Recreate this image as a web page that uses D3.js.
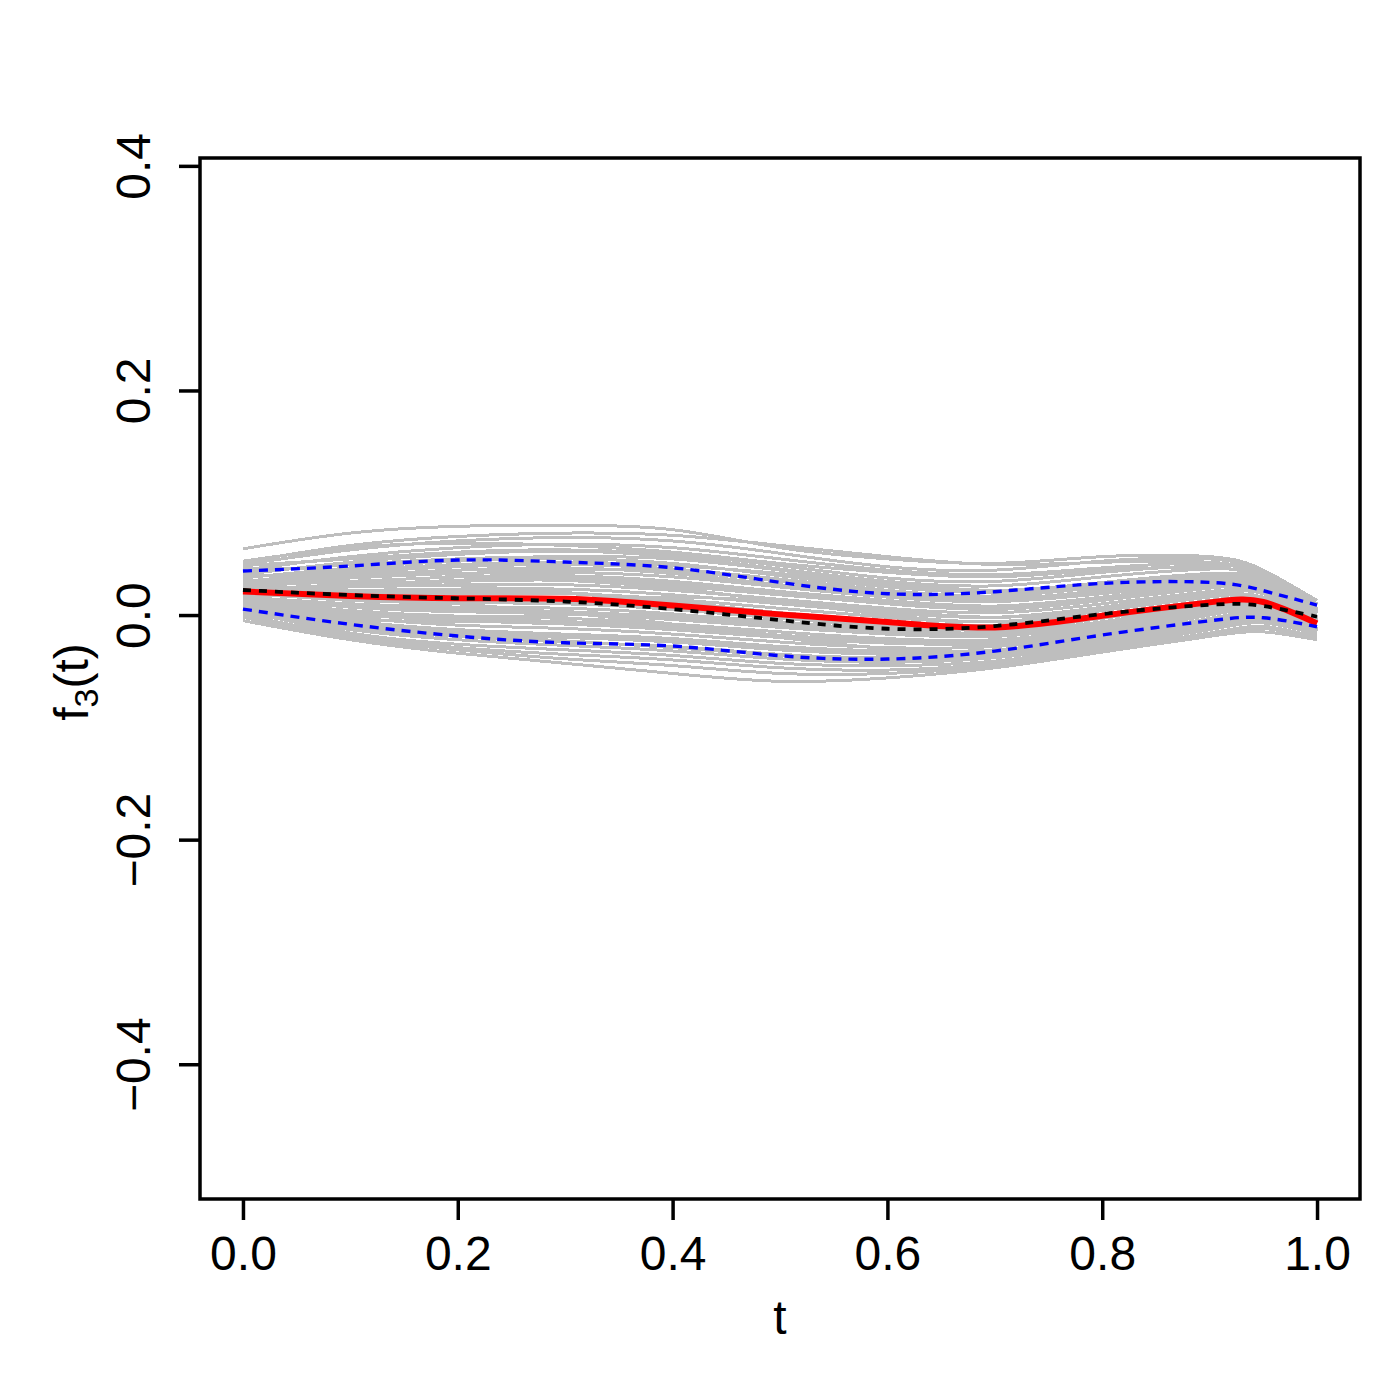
<html>
  <head>
    <meta charset="utf-8">
    <title>f3(t)</title>
    <style>
      body { margin: 0; background: #fff; }
      text { font-family: 'Liberation Sans', Arial, sans-serif; }
    </style>
  </head>
  <body>
    <script src="https://d3js.org/d3.v7.min.js"></script>
    <script>
      var width = 1400;
      var height = 1400;

      var tGrid = [0, 0.1, 0.2, 0.3, 0.4, 0.5, 0.6, 0.7, 0.8, 0.9, 0.95, 1.0];

      // red solid: estimate
      var estimate = [0.021, 0.017, 0.015, 0.0145, 0.0085, 0.0006, -0.0062, -0.011, -0.0006, 0.0113, 0.0116, -0.0074];
      // black dashed: true function
      var truth = [0.0223, 0.0178, 0.0149, 0.012, 0.0053, -0.0045, -0.0122, -0.0098, 0.0009, 0.0092, 0.008, -0.0015];
      // blue dashed: pointwise band
      var upperBand = [0.0392, 0.0437, 0.049, 0.0472, 0.0421, 0.0291, 0.019, 0.0208, 0.0282, 0.0291, 0.0217, 0.0089];
      var lowerBand = [0.0053, -0.0083, -0.0187, -0.0247, -0.0276, -0.0362, -0.0392, -0.0321, -0.0178, -0.0051, -0.0024, -0.0104];

      // grey: bootstrap curves
      var bootCurves = [
        [0.059, 0.073, 0.079, 0.080, 0.076, 0.060, 0.050, 0.046, 0.052, 0.052, 0.040, 0.013],
        [0.047, 0.062, 0.070, 0.073, 0.071, 0.062, 0.052, 0.045, 0.047, 0.047, 0.036, 0.008],
        [0.045, 0.058, 0.066, 0.069, 0.066, 0.055, 0.043, 0.040, 0.048, 0.050, 0.038, 0.010],
        [0.040, 0.052, 0.060, 0.063, 0.060, 0.050, 0.040, 0.036, 0.042, 0.046, 0.036, 0.006],
        [0.044, 0.050, 0.056, 0.058, 0.054, 0.044, 0.033, 0.030, 0.038, 0.044, 0.037, 0.009],
        [0.036, 0.047, 0.054, 0.057, 0.052, 0.041, 0.030, 0.026, 0.034, 0.041, 0.034, 0.004],
        [0.038, 0.045, 0.050, 0.052, 0.050, 0.040, 0.029, 0.022, 0.029, 0.037, 0.031, 0.002],
        [0.033, 0.042, 0.048, 0.050, 0.046, 0.035, 0.025, 0.020, 0.027, 0.035, 0.030, 0.003],
        [0.030, 0.038, 0.043, 0.045, 0.041, 0.032, 0.022, 0.017, 0.025, 0.033, 0.028, 0.000],
        [0.035, 0.036, 0.040, 0.042, 0.037, 0.027, 0.018, 0.014, 0.022, 0.031, 0.027, 0.001],
        [0.028, 0.033, 0.037, 0.038, 0.034, 0.025, 0.016, 0.012, 0.019, 0.028, 0.025, -0.002],
        [0.026, 0.030, 0.034, 0.035, 0.030, 0.021, 0.013, 0.008, 0.016, 0.026, 0.024, 0.000],
        [0.031, 0.028, 0.030, 0.031, 0.026, 0.018, 0.010, 0.005, 0.013, 0.024, 0.022, -0.003],
        [0.024, 0.025, 0.027, 0.027, 0.022, 0.014, 0.006, 0.002, 0.010, 0.021, 0.020, -0.004],
        [0.022, 0.022, 0.023, 0.023, 0.018, 0.010, 0.002, -0.002, 0.007, 0.019, 0.019, -0.005],
        [0.027, 0.020, 0.019, 0.019, 0.014, 0.006, -0.002, -0.006, 0.004, 0.016, 0.016, -0.006],
        [0.019, 0.017, 0.016, 0.015, 0.010, 0.002, -0.005, -0.009, 0.001, 0.013, 0.014, -0.008],
        [0.020, 0.013, 0.011, 0.010, 0.005, -0.003, -0.010, -0.013, -0.003, 0.010, 0.012, -0.009],
        [0.016, 0.010, 0.007, 0.006, 0.001, -0.007, -0.013, -0.016, -0.006, 0.008, 0.010, -0.010],
        [0.017, 0.007, 0.003, 0.001, -0.004, -0.011, -0.017, -0.019, -0.009, 0.005, 0.008, -0.012],
        [0.013, 0.004, -0.001, -0.003, -0.008, -0.015, -0.021, -0.022, -0.012, 0.002, 0.006, -0.011],
        [0.012, 0.001, -0.005, -0.008, -0.013, -0.020, -0.025, -0.025, -0.015, 0.000, 0.004, -0.013],
        [0.008, -0.002, -0.009, -0.012, -0.017, -0.024, -0.029, -0.028, -0.018, -0.003, 0.002, -0.014],
        [0.010, -0.005, -0.013, -0.017, -0.021, -0.028, -0.032, -0.031, -0.020, -0.005, 0.001, -0.012],
        [0.005, -0.008, -0.016, -0.020, -0.024, -0.031, -0.035, -0.033, -0.022, -0.007, -0.001, -0.015],
        [0.007, -0.011, -0.019, -0.024, -0.028, -0.035, -0.038, -0.035, -0.024, -0.009, -0.003, -0.016],
        [0.002, -0.013, -0.022, -0.027, -0.032, -0.039, -0.042, -0.038, -0.026, -0.011, -0.005, -0.018],
        [0.004, -0.016, -0.026, -0.031, -0.036, -0.043, -0.045, -0.041, -0.028, -0.013, -0.007, -0.017],
        [0.000, -0.018, -0.029, -0.035, -0.040, -0.047, -0.049, -0.043, -0.030, -0.016, -0.010, -0.020],
        [-0.002, -0.020, -0.031, -0.039, -0.045, -0.052, -0.052, -0.045, -0.031, -0.018, -0.012, -0.021],
        [-0.005, -0.022, -0.034, -0.043, -0.052, -0.059, -0.056, -0.047, -0.033, -0.019, -0.015, -0.022],
        [0.030, 0.030, 0.026, 0.020, 0.010, -0.002, -0.012, -0.018, -0.010, 0.006, 0.010, -0.008],
        [0.010, 0.008, 0.010, 0.014, 0.016, 0.012, 0.004, -0.002, 0.005, 0.017, 0.016, -0.004],
        [0.042, 0.040, 0.036, 0.031, 0.024, 0.012, 0.000, -0.006, 0.004, 0.020, 0.020, -0.002],
        [0.000, -0.004, -0.006, -0.006, -0.010, -0.020, -0.030, -0.032, -0.020, -0.004, 0.002, -0.016],
        [0.025, 0.018, 0.010, 0.002, -0.008, -0.018, -0.024, -0.026, -0.016, 0.000, 0.005, -0.012],
        [0.048, 0.060, 0.064, 0.062, 0.056, 0.046, 0.038, 0.034, 0.040, 0.042, 0.033, 0.005],
        [0.034, 0.040, 0.045, 0.047, 0.044, 0.037, 0.027, 0.020, 0.024, 0.030, 0.026, 0.002],
        [0.029, 0.035, 0.040, 0.041, 0.039, 0.030, 0.020, 0.015, 0.021, 0.029, 0.026, -0.001],
        [0.023, 0.027, 0.031, 0.033, 0.028, 0.019, 0.011, 0.007, 0.015, 0.025, 0.023, -0.002],
        [0.018, 0.015, 0.013, 0.012, 0.008, 0.000, -0.008, -0.011, -0.001, 0.012, 0.013, -0.008],
        [0.014, 0.008, 0.005, 0.003, -0.002, -0.009, -0.015, -0.018, -0.008, 0.006, 0.009, -0.011],
        [0.011, 0.002, -0.003, -0.006, -0.011, -0.018, -0.023, -0.024, -0.014, 0.001, 0.005, -0.012],
        [0.006, -0.006, -0.014, -0.018, -0.023, -0.030, -0.034, -0.032, -0.021, -0.006, 0.000, -0.014],
        [0.003, -0.010, -0.018, -0.023, -0.029, -0.036, -0.040, -0.037, -0.025, -0.010, -0.004, -0.017],
        [0.020, 0.021, 0.022, 0.020, 0.012, 0.002, -0.008, -0.014, -0.006, 0.008, 0.011, -0.007],
        [0.009, 0.000, -0.002, 0.000, 0.000, -0.006, -0.014, -0.018, -0.010, 0.003, 0.007, -0.013]
      ];

      var xTicks = [0, 0.2, 0.4, 0.6, 0.8, 1.0];
      var yTicks = [-0.4, -0.2, 0, 0.2, 0.4];
      var xTickLabels = ["0.0", "0.2", "0.4", "0.6", "0.8", "1.0"];
      var yTickLabels = ["\u22120.4", "\u22120.2", "0.0", "0.2", "0.4"];

      var box = { left: 200, right: 1360, top: 158, bottom: 1199 };

      var x = d3.scaleLinear().domain([-0.04, 1.04]).range([box.left, box.right]);
      var y = d3.scaleLinear().domain([-0.520, 0.407]).range([box.bottom, box.top]);

      var svg = d3.select("body")
        .append("svg")
        .attr("width", width)
        .attr("height", height);

      var line = d3.line()
        .x(function(d, i) { return x(tGrid[i]); })
        .y(function(d) { return y(d); })
        .curve(d3.curveNatural);

      // grey curves first, no anti-aliasing like the R png device
      svg.append("g")
        .attr("shape-rendering", "crispEdges")
        .selectAll("path")
        .data(bootCurves)
        .enter()
        .append("path")
        .attr("d", line)
        .attr("fill", "none")
        .attr("stroke", "#BEBEBE")
        .attr("stroke-width", 3);

      svg.append("path")
        .attr("d", line(estimate))
        .attr("fill", "none")
        .attr("stroke", "#FF0000")
        .attr("stroke-width", 6);

      svg.append("path")
        .attr("d", line(truth))
        .attr("fill", "none")
        .attr("stroke", "#000")
        .attr("stroke-width", 3.8)
        .attr("stroke-dasharray", "8,8");

      [upperBand, lowerBand].forEach(function(band) {
        svg.append("path")
          .attr("d", line(band))
          .attr("fill", "none")
          .attr("stroke", "#0000FF")
          .attr("stroke-width", 3.4)
          .attr("stroke-dasharray", "9,7");
      });

      // box
      svg.append("rect")
        .attr("x", box.left)
        .attr("y", box.top)
        .attr("width", box.right - box.left)
        .attr("height", box.bottom - box.top)
        .attr("fill", "none")
        .attr("stroke", "#000")
        .attr("stroke-width", 3.5);

      // x axis
      var xAxis = svg.append("g")
        .attr("transform", "translate(0," + box.bottom + ")")
        .call(d3.axisBottom(x)
          .tickValues(xTicks)
          .tickFormat(function(d, i) { return xTickLabels[i]; })
          .tickSize(21)
          .tickPadding(16));
      xAxis.select(".domain").remove();
      xAxis.selectAll("line").attr("stroke", "#000").attr("stroke-width", 3.5);
      xAxis.selectAll("text")
        .attr("font-size", 48)
        .attr("fill", "#000")
        .style("font-family", "'Liberation Sans', Arial, sans-serif");

      // y axis, labels rotated like R
      var yAxis = svg.append("g")
        .attr("transform", "translate(" + box.left + ",0)")
        .call(d3.axisLeft(y)
          .tickValues(yTicks)
          .tickFormat(function(d, i) { return yTickLabels[i]; })
          .tickSize(21));
      yAxis.select(".domain").remove();
      yAxis.selectAll("line").attr("stroke", "#000").attr("stroke-width", 3.5);
      yAxis.selectAll("text")
        .attr("x", null)
        .attr("dy", null)
        .attr("text-anchor", "middle")
        .attr("transform", "translate(-50,0) rotate(-90)")
        .attr("font-size", 48)
        .attr("fill", "#000")
        .style("font-family", "'Liberation Sans', Arial, sans-serif");

      // axis titles
      svg.append("text")
        .attr("x", x(0.5))
        .attr("y", 1334)
        .attr("text-anchor", "middle")
        .attr("font-size", 48)
        .text("t");

      var yTitle = svg.append("text")
        .attr("transform", "translate(88," + 682 + ") rotate(-90)")
        .attr("text-anchor", "middle")
        .attr("font-size", 48);
      yTitle.append("tspan").text("f");
      yTitle.append("tspan").attr("font-size", 34).attr("dy", 10).text("3");
      yTitle.append("tspan").attr("dy", -10).text("(t)");
    </script>
  </body>
</html>
